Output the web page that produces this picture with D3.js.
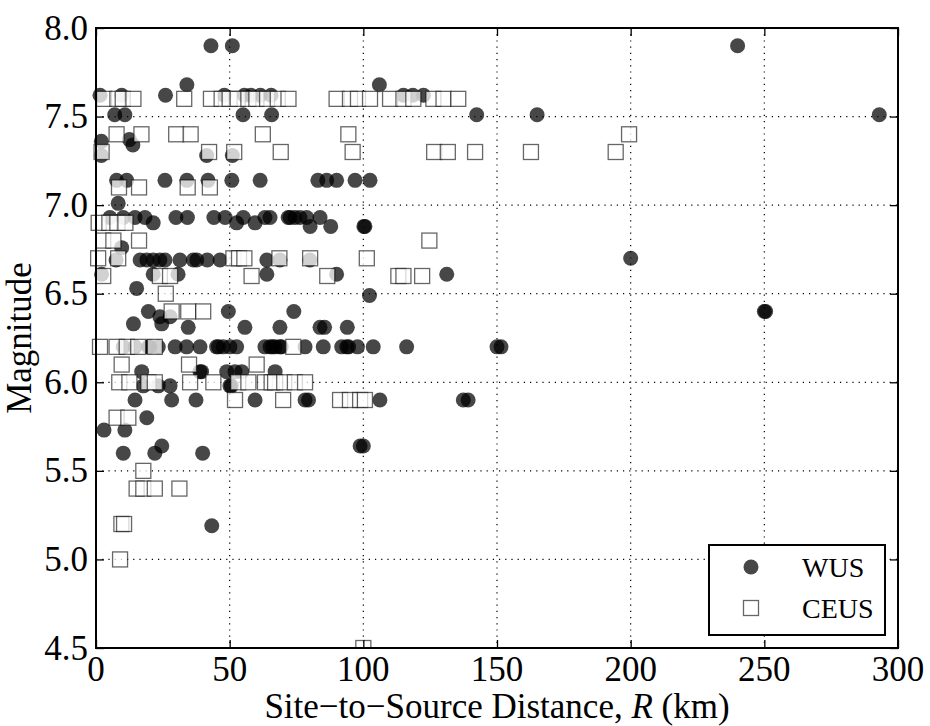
<!DOCTYPE html>
<html><head><meta charset="utf-8">
<script src="https://cdn.jsdelivr.net/npm/d3@7"></script>
<style>body{margin:0;background:#fff;}</style>
</head>
<body><svg id="c" width="930" height="726"></svg>
<script>
// ---- data (distance km, magnitude) ----
const wusPoints = [
 [43,7.9],[51,7.9],[240,7.9],
 [34,7.68],[106,7.68],
 [1.5,7.62],[9.6,7.62],[26,7.62],[48,7.62],[55.5,7.62],[58,7.62],[61.5,7.62],[65.5,7.62],[115,7.62],[118.5,7.62],[122.5,7.62],
 [7,7.51],[10.8,7.51],[55,7.51],[65.7,7.51],[142.4,7.51],[165,7.51],[293,7.51],
 [2,7.36],[12.5,7.37],[13.8,7.34],
 [2,7.28],[41.4,7.28],[51,7.28],
 [7.7,7.14],[11.5,7.14],[25.8,7.14],[34,7.14],[41.9,7.14],[50.8,7.14],[61.4,7.14],[83,7.14],[86.3,7.14],[90,7.14],[96.9,7.14],[102.5,7.14],
 [8.3,7.01],
 [5.2,6.93],[10.2,6.93],[14.6,6.93],[18.3,6.93],[29.9,6.93],[34.2,6.93],[44.1,6.93],[48.3,6.93],[55.1,6.93],[63.2,6.93],[65.1,6.93],[71.9,6.93],[72.6,6.93],[74.4,6.93],[76.3,6.93],[78.8,6.93],[83.8,6.93],
 [21.4,6.9],[52.6,6.9],[59.5,6.9],
 [80.1,6.88],[87.8,6.88],[100.2,6.88],[100.6,6.88],
 [9.6,6.76],
 [7.5,6.69],[16.5,6.69],[19,6.69],[21.4,6.69],[23.9,6.69],[25.8,6.69],[31.4,6.69],[36.4,6.69],[37.7,6.69],[41.6,6.69],[46.4,6.69],[63.9,6.69],[68.8,6.69],[80,6.69],
 [200,6.7],
 [2.1,6.61],[21.4,6.61],[30.7,6.61],[63.9,6.61],[90,6.61],[131.2,6.61],
 [15.2,6.53],[102.3,6.49],
 [19.6,6.4],[49.5,6.4],[74,6.4],[250,6.4],[250.5,6.4],
 [23.9,6.37],[27.7,6.37],
 [14,6.33],[24.6,6.33],
 [34.5,6.31],[55.7,6.31],[68.8,6.31],[83.8,6.31],[85.5,6.31],[94,6.31],
 [10.2,6.2],[14.6,6.2],[19.6,6.2],[20.2,6.2],[23.3,6.2],[29.6,6.2],[33.9,6.2],[38.9,6.2],[45.1,6.2],[45.8,6.2],[47.6,6.2],[50.1,6.2],[52.6,6.2],[63.2,6.2],[65.1,6.2],[66,6.2],[67,6.2],[68.8,6.2],[69.3,6.2],[78.2,6.2],[85,6.2],[91.9,6.2],[93.8,6.2],[94.5,6.2],[97.8,6.2],[103.7,6.2],[116.2,6.2],[150,6.2],[151.5,6.2],
 [17.1,6.06],[38.9,6.06],[39.5,6.06],[48.9,6.06],[52,6.06],[54.5,6.06],[67,6.06],
 [17.7,5.98],[23.3,5.98],[27.7,5.98],[50.1,5.98],[50.6,5.98],
 [14.6,5.9],[28.3,5.9],[37.4,5.9],[59.5,5.9],[78.2,5.9],[79.5,5.9],[106.2,5.9],[137.4,5.9],[139.2,5.9],
 [19,5.8],
 [3,5.73],[10.8,5.73],
 [10.2,5.6],[22,5.6],[39.9,5.6],
 [24.6,5.64],[98.8,5.64],[100,5.64],
 [43.3,5.19]
];
const ceusPoints = [
 [3,7.6],[8,7.6],[10,7.6],[14,7.6],[33,7.6],[43,7.6],[47,7.6],[50,7.6],[53,7.6],[57,7.6],[60,7.6],[64,7.6],[68,7.6],[72,7.6],[90,7.6],[95,7.6],[98,7.6],[102.5,7.6],[110,7.6],[115,7.6],[118.7,7.6],[126.2,7.6],[130,7.6],[135.5,7.6],
 [7.7,7.4],[17,7.4],[30,7.4],[35.4,7.4],[62.4,7.4],[94.4,7.4],[199.4,7.4],
 [2.1,7.3],[42.3,7.3],[51.7,7.3],[69.1,7.3],[96,7.3],[126.5,7.3],[131.6,7.3],[141.8,7.3],[162.7,7.3],[194.4,7.3],
 [8.6,7.1],[16.1,7.1],[34.3,7.1],[42.6,7.1],
 [1,6.9],[5,6.9],[8,6.9],[11,6.9],
 [2.7,6.8],[6.5,6.8],[16.1,6.8],[124.7,6.8],
 [0.8,6.7],[8.3,6.7],[51.4,6.7],[53.5,6.7],[55.5,6.7],[68.6,6.7],[80.1,6.7],[101.3,6.7],
 [2.7,6.6],[23.9,6.6],[27.7,6.6],[58.2,6.6],[86.5,6.6],[113.1,6.6],[115,6.6],[122,6.6],
 [26.1,6.5],
 [28.3,6.4],[34.5,6.4],[40.1,6.4],
 [1.5,6.2],[7.7,6.2],[11.5,6.2],[15.8,6.2],[22,6.2],[73.8,6.2],
 [9.6,6.1],[34.8,6.1],[60.1,6.1],
 [8.7,6.0],[12.5,6.0],[19.6,6.0],[22,6.0],[35.2,6.0],[43.9,6.0],[53.2,6.0],[57,6.0],[63.2,6.0],[65.7,6.0],[67,6.0],[70.4,6.0],[74.4,6.0],[78.2,6.0],
 [52,5.9],[70,5.9],[91.3,5.9],[95,5.9],[98.8,5.9],[100.6,5.9],
 [7.7,5.8],[12.1,5.8],
 [17.7,5.5],
 [15.2,5.4],[17.7,5.4],[22,5.4],[31.2,5.4],
 [9.5,5.2],[10.5,5.2],
 [9,5.0],
 [100,4.5]
];
const xTicks = [0,50,100,150,200,250,300];
const yTicks = [4.5,5.0,5.5,6.0,6.5,7.0,7.5,8.0];
const legendLabels = ["WUS","CEUS"];

// ---- layout ----
const L=96,R=898,T=28,B=648;
const FONT="Tinos, 'Liberation Serif', Times, serif";
const svg=d3.select("#c");
const x=d3.scaleLinear().domain([0,300]).range([L,R]);
const y=d3.scaleLinear().domain([4.5,8]).range([B,T]);

// pick the largest font size (<=35) at which the serif face is really used
function measure(size){
  const t=svg.append("text").style("font-family",FONT).style("font-size",size+"px")
    .text("Site to Source Distance Magnitude 0123456789");
  const w=t.node().getComputedTextLength(); t.remove(); return w/size;
}
const ref=measure(28);
let fs=28;
for(const sz of [35,34,33,32,31,30,29]){
  if(Math.abs(measure(sz)/ref-1)<0.025){ fs=sz; break; }
}
function txt(parent,px,py,anchor,rot){
  const t=parent.append("text").attr("text-anchor",anchor)
    .style("font-family",FONT).style("font-size",fs+"px").attr("fill","#000");
  if(rot) t.attr("transform",`translate(${px},${py}) rotate(${rot})`);
  else t.attr("x",px).attr("y",py);
  return t;
}

// grid
const grid=svg.append("g").attr("stroke","#000").attr("stroke-width",1.2).attr("stroke-dasharray","1.2,5");
grid.selectAll(".gx").data(xTicks.slice(1,-1)).enter().append("line")
 .attr("x1",d=>x(d)).attr("x2",d=>x(d)).attr("y1",T).attr("y2",B);
grid.selectAll(".gy").data(yTicks.slice(1,-1)).enter().append("line")
 .attr("y1",d=>y(d)).attr("y2",d=>y(d)).attr("x1",L).attr("x2",R);

// points
const g=svg.append("g");
g.selectAll("circle.w").data(wusPoints).enter().append("circle")
 .attr("cx",d=>x(d[0])).attr("cy",d=>y(d[1])).attr("r",7.5)
 .attr("fill","#000").attr("fill-opacity",0.72);
const s=15;
g.selectAll("rect.c").data(ceusPoints).enter().append("rect")
 .attr("x",d=>x(d[0])-s/2).attr("y",d=>y(d[1])-s/2).attr("width",s).attr("height",s)
 .attr("fill","#fff").attr("fill-opacity",0.75)
 .attr("stroke","#000").attr("stroke-opacity",0.6).attr("stroke-width",1.3);

// hide marker parts below the plot area
svg.append("rect").attr("x",0).attr("y",B+1).attr("width",930).attr("height",726-B-1).attr("fill","#fff");

// axes (tick marks inward on all four sides)
const axes=[
 svg.append("g").attr("transform",`translate(0,${B})`).call(d3.axisBottom(x).tickValues(xTicks).tickSize(-8).tickFormat("")),
 svg.append("g").attr("transform",`translate(0,${T})`).call(d3.axisTop(x).tickValues(xTicks).tickSize(-8).tickFormat("")),
 svg.append("g").attr("transform",`translate(${L},0)`).call(d3.axisLeft(y).tickValues(yTicks).tickSize(-8).tickFormat("")),
 svg.append("g").attr("transform",`translate(${R},0)`).call(d3.axisRight(y).tickValues(yTicks).tickSize(-8).tickFormat(""))
];
axes.forEach(a=>{
 a.select(".domain").remove();
 a.selectAll(".tick line").attr("stroke","#000").attr("stroke-width",1.3);
 a.selectAll(".tick text").remove();
});

// frame
svg.append("rect").attr("x",L).attr("y",T).attr("width",R-L).attr("height",B-T)
 .attr("fill","none").attr("stroke","#000").attr("stroke-width",2);

// tick labels
const fmtX=d3.format("d"), fmtY=d3.format(".1f");
const tl=svg.append("g");
xTicks.forEach(d=>txt(tl, x(d), 669.4+0.33*fs, "middle").text(fmtX(d)));
yTicks.forEach(d=>txt(tl, 88, y(d)+0.33*fs, "end").text(fmtY(d)));

// axis labels
const xl=txt(svg,(L+R)/2, Math.min(706.5+0.33*fs,718),"middle");
xl.append("tspan").text("Site\u2212to\u2212Source Distance, ");
xl.append("tspan").style("font-style","italic").text("R");
xl.append("tspan").text(" (km)");
txt(svg, 22+0.25*fs, (T+B)/2, "middle", -90).text("Magnitude");

// legend
const lg=svg.append("g");
lg.append("rect").attr("x",709).attr("y",545).attr("width",176).attr("height",90)
 .attr("fill","#fff").attr("stroke","#000").attr("stroke-width",2);
lg.append("circle").attr("cx",751).attr("cy",567).attr("r",7.5).attr("fill","#000").attr("fill-opacity",0.72);
lg.append("rect").attr("x",751-s/2).attr("y",608-s/2).attr("width",s).attr("height",s)
 .attr("fill","#fff").attr("stroke","#000").attr("stroke-opacity",0.6).attr("stroke-width",1.3);
lg.selectAll("text.lgt").data(legendLabels).enter().append("text")
 .attr("x",802).attr("y",(d,i)=>577+i*41).style("font-family",FONT).style("font-size","28px").text(d=>d);
</script></body></html>
